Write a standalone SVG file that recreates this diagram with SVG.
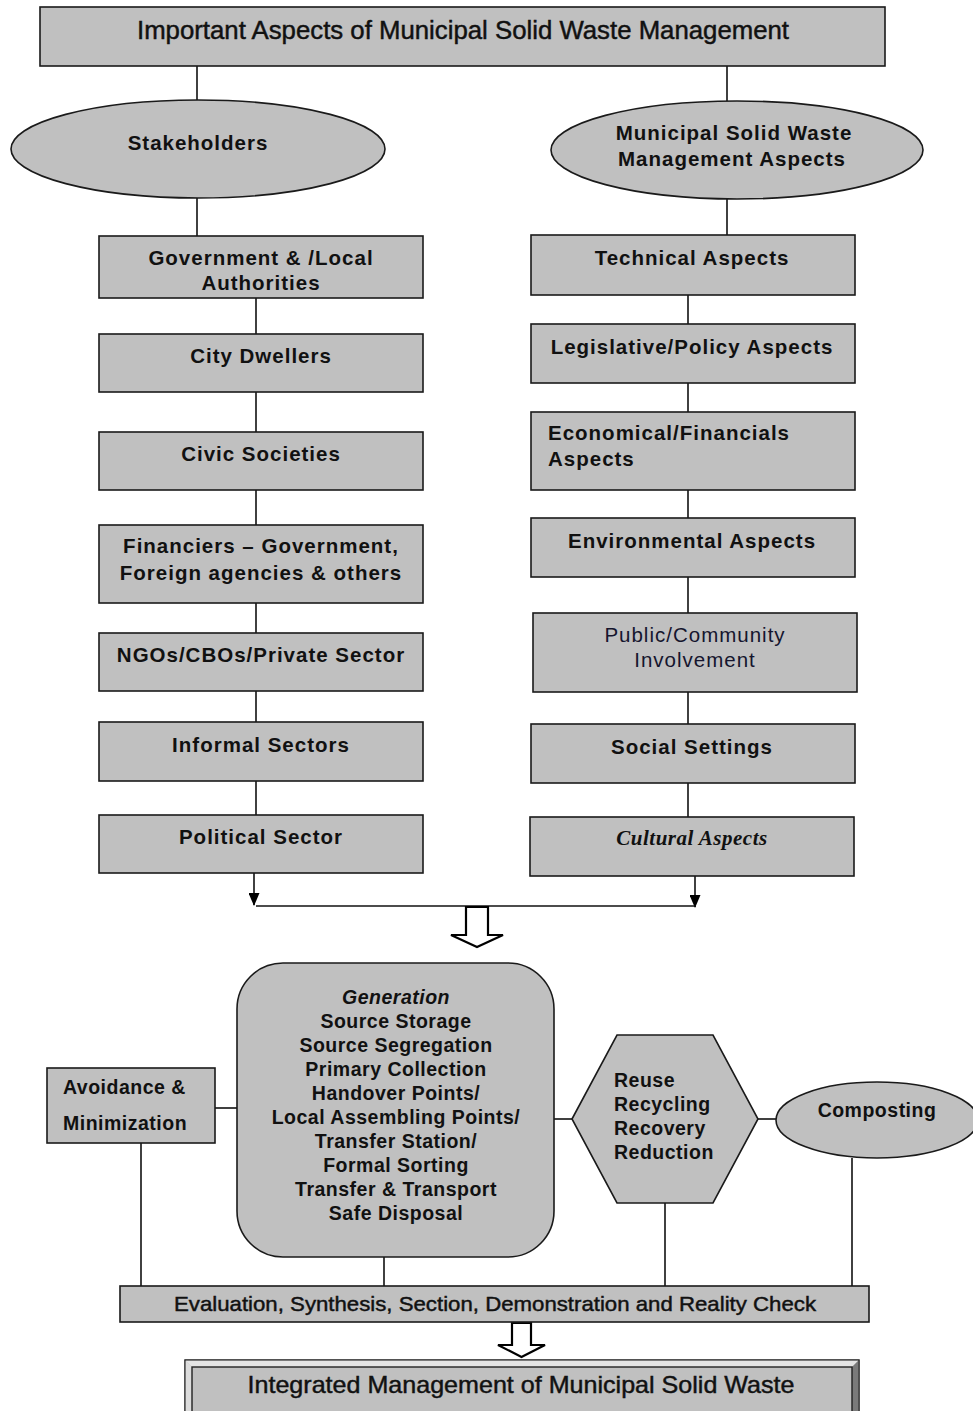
<svg xmlns="http://www.w3.org/2000/svg" width="973" height="1411" viewBox="0 0 973 1411">
  <defs>
    <style>
      .box { fill: #c0c0c0; stroke: #1a1a1a; stroke-width: 1.6; }
      .ln { fill: none; stroke: #111; stroke-width: 1.6; }
      .t { font-family: "Liberation Sans", Arial, sans-serif; font-weight: bold; font-size: 20.5px; letter-spacing: 1px; fill: #111; }
      .p { font-family: "Liberation Sans", Arial, sans-serif; font-weight: bold; font-size: 19.5px; letter-spacing: 0.5px; fill: #111; }
      .c { text-anchor: middle; }
      .n { font-family: "Liberation Sans", Arial, sans-serif; fill: #111; stroke: #111; stroke-width: 0.45px; }
      .reg { font-family: "Liberation Sans", Arial, sans-serif; font-size: 20.5px; letter-spacing: 1px; fill: #15152e; text-anchor: middle; }
      .ser { font-family: "Liberation Serif", "Times New Roman", serif; font-style: italic; font-weight: bold; font-size: 21px; letter-spacing: 0.5px; fill: #111; text-anchor: middle; }
      .hollow { fill: #fff; stroke: #000; stroke-width: 2.2; stroke-linejoin: miter; }
    </style>
    <marker id="arr" markerWidth="11" markerHeight="13" refX="5.5" refY="12" orient="0" markerUnits="userSpaceOnUse" viewBox="0 0 11 13">
      <path d="M0,0 L11,0 L5.5,13 Z" fill="#000"/>
    </marker>
  </defs>

  <!-- connectors -->
  <g id="connectors">
    <line class="ln" x1="197" y1="66" x2="197" y2="100"/>
    <line class="ln" x1="727" y1="66" x2="727" y2="101"/>
    <line class="ln" x1="197" y1="198" x2="197" y2="236"/>
    <line class="ln" x1="727" y1="199" x2="727" y2="235"/>
    <!-- stakeholder chain -->
    <line class="ln" x1="256" y1="298" x2="256" y2="334"/>
    <line class="ln" x1="256" y1="392" x2="256" y2="432"/>
    <line class="ln" x1="256" y1="490" x2="256" y2="525"/>
    <line class="ln" x1="256" y1="603" x2="256" y2="633"/>
    <line class="ln" x1="256" y1="691" x2="256" y2="722"/>
    <line class="ln" x1="256" y1="781" x2="256" y2="815"/>
    <!-- aspects chain -->
    <line class="ln" x1="688" y1="295" x2="688" y2="324"/>
    <line class="ln" x1="688" y1="383" x2="688" y2="412"/>
    <line class="ln" x1="688" y1="490" x2="688" y2="518"/>
    <line class="ln" x1="688" y1="577" x2="688" y2="613"/>
    <line class="ln" x1="688" y1="692" x2="688" y2="724"/>
    <line class="ln" x1="688" y1="783" x2="688" y2="817"/>
    <!-- merge into one line -->
    <line class="ln" x1="254" y1="873" x2="254" y2="905" marker-end="url(#arr)"/>
    <line class="ln" x1="695" y1="876" x2="695" y2="907" marker-end="url(#arr)"/>
    <line class="ln" x1="256" y1="906" x2="696" y2="906"/>
    <!-- hollow arrow to process -->
    <path class="hollow" d="M466,907 L488,907 L488,935 L503,935 L477,947 L451,935 L466,935 Z"/>
    <!-- process row links -->
    <line class="ln" x1="215" y1="1108" x2="237" y2="1108"/>
    <line class="ln" x1="554" y1="1119" x2="572" y2="1119"/>
    <line class="ln" x1="758" y1="1119" x2="776" y2="1119"/>
    <line class="ln" x1="141" y1="1143" x2="141" y2="1286"/>
    <line class="ln" x1="384" y1="1257" x2="384" y2="1287"/>
    <line class="ln" x1="665" y1="1203" x2="665" y2="1286"/>
    <line class="ln" x1="852" y1="1158" x2="852" y2="1286"/>
    <!-- hollow arrow to result -->
    <path class="hollow" d="M512,1323 L531,1323 L531,1345 L545,1345 L521.5,1357 L498,1345 L512,1345 Z"/>
  </g>

  <!-- title -->
  <g id="title">
    <rect class="box" x="40" y="7" width="845" height="59"/>
    <text class="n c" x="463" y="39" font-size="25" textLength="652" lengthAdjust="spacingAndGlyphs">Important Aspects of Municipal Solid Waste Management</text>
  </g>

  <!-- branch heads -->
  <g id="stakeholders">
    <ellipse class="box" cx="198" cy="149" rx="187" ry="49"/>
    <text class="t c" x="198" y="150">Stakeholders</text>
  </g>
  <g id="msw-aspects">
    <ellipse class="box" cx="737" cy="150" rx="186" ry="49"/>
    <text class="t c" x="734" y="140" letter-spacing="0.8">Municipal Solid Waste</text>
    <text class="t c" x="732" y="166" letter-spacing="0.8">Management Aspects</text>
  </g>

  <!-- stakeholder boxes -->
  <g id="government">
    <rect class="box" x="99" y="236" width="324" height="62"/>
    <text class="t c" x="261" y="265">Government &amp; /Local</text>
    <text class="t c" x="261" y="290">Authorities</text>
  </g>
  <g id="city-dwellers">
    <rect class="box" x="99" y="334" width="324" height="58"/>
    <text class="t c" x="261" y="363">City Dwellers</text>
  </g>
  <g id="civic-societies">
    <rect class="box" x="99" y="432" width="324" height="58"/>
    <text class="t c" x="261" y="461">Civic Societies</text>
  </g>
  <g id="financiers">
    <rect class="box" x="99" y="525" width="324" height="78"/>
    <text class="t c" x="261" y="553">Financiers – Government,</text>
    <text class="t c" x="261" y="580">Foreign agencies &amp; others</text>
  </g>
  <g id="ngos">
    <rect class="box" x="99" y="633" width="324" height="58"/>
    <text class="t c" x="261" y="662">NGOs/CBOs/Private Sector</text>
  </g>
  <g id="informal">
    <rect class="box" x="99" y="722" width="324" height="59"/>
    <text class="t c" x="261" y="752">Informal Sectors</text>
  </g>
  <g id="political">
    <rect class="box" x="99" y="815" width="324" height="58"/>
    <text class="t c" x="261" y="844">Political Sector</text>
  </g>

  <!-- aspect boxes -->
  <g id="technical">
    <rect class="box" x="531" y="235" width="324" height="60"/>
    <text class="t c" x="692" y="265">Technical Aspects</text>
  </g>
  <g id="legislative">
    <rect class="box" x="531" y="324" width="324" height="59"/>
    <text class="t c" x="692" y="354">Legislative/Policy Aspects</text>
  </g>
  <g id="economical">
    <rect class="box" x="531" y="412" width="324" height="78"/>
    <text class="t" x="548" y="440">Economical/Financials</text>
    <text class="t" x="548" y="466">Aspects</text>
  </g>
  <g id="environmental">
    <rect class="box" x="531" y="518" width="324" height="59"/>
    <text class="t c" x="692" y="548">Environmental Aspects</text>
  </g>
  <g id="public">
    <rect class="box" x="533" y="613" width="324" height="79"/>
    <text class="reg" x="695" y="642">Public/Community</text>
    <text class="reg" x="695" y="667">Involvement</text>
  </g>
  <g id="social">
    <rect class="box" x="531" y="724" width="324" height="59"/>
    <text class="t c" x="692" y="754">Social Settings</text>
  </g>
  <g id="cultural">
    <rect class="box" x="530" y="817" width="324" height="59"/>
    <text class="ser" x="692" y="845">Cultural Aspects</text>
  </g>

  <!-- process stage -->
  <g id="avoidance">
    <rect class="box" x="47" y="1068" width="168" height="75"/>
    <text class="p" x="63" y="1094" letter-spacing="0.7">Avoidance &amp;</text>
    <text class="p" x="63" y="1130" letter-spacing="0.7">Minimization</text>
  </g>
  <g id="chain">
    <rect class="box" x="237" y="963" width="317" height="294" rx="46" ry="46"/>
    <text class="p c" x="396" y="1004" font-style="italic">Generation</text>
    <text class="p c" x="396" y="1028">Source Storage</text>
    <text class="p c" x="396" y="1052">Source Segregation</text>
    <text class="p c" x="396" y="1076">Primary Collection</text>
    <text class="p c" x="396" y="1100">Handover Points/</text>
    <text class="p c" x="396" y="1124">Local Assembling Points/</text>
    <text class="p c" x="396" y="1148">Transfer Station/</text>
    <text class="p c" x="396" y="1172">Formal Sorting</text>
    <text class="p c" x="396" y="1196">Transfer &amp; Transport</text>
    <text class="p c" x="396" y="1220">Safe Disposal</text>
  </g>
  <g id="four-r">
    <polygon class="box" points="572,1119 617,1035 713,1035 758,1119 713,1203 617,1203"/>
    <text class="p" x="614" y="1087" letter-spacing="0.3">Reuse</text>
    <text class="p" x="614" y="1111" letter-spacing="0.3">Recycling</text>
    <text class="p" x="614" y="1135" letter-spacing="0.3">Recovery</text>
    <text class="p" x="614" y="1159" letter-spacing="0.3">Reduction</text>
  </g>
  <g id="composting">
    <ellipse class="box" cx="877" cy="1120" rx="101" ry="38"/>
    <text class="p c" x="877" y="1117" letter-spacing="0.7">Composting</text>
  </g>

  <!-- evaluation -->
  <g id="evaluation">
    <rect class="box" x="120" y="1286" width="749" height="36"/>
    <text class="n" x="174" y="1311" font-size="21" textLength="642" lengthAdjust="spacingAndGlyphs">Evaluation, Synthesis, Section, Demonstration and Reality Check</text>
  </g>

  <!-- result -->
  <g id="integrated">
    <rect x="185" y="1360" width="674" height="56" fill="#c0c0c0" stroke="#333" stroke-width="1.2"/>
    <polygon points="185,1360 859,1360 852,1367 192,1367" fill="#e4e4e4"/>
    <polygon points="185,1360 192,1367 192,1416 185,1416" fill="#dcdcdc"/>
    <polygon points="859,1360 859,1416 852,1416 852,1367" fill="#7a7a7a"/>
    <rect x="185" y="1360" width="674" height="56" fill="none" stroke="#333" stroke-width="1.2"/>
    <rect x="192" y="1367" width="660" height="49" fill="none" stroke="#222" stroke-width="1.4"/>
    <text class="n c" x="521" y="1393" font-size="24" textLength="547" lengthAdjust="spacingAndGlyphs">Integrated Management of Municipal Solid Waste</text>
  </g>
</svg>
